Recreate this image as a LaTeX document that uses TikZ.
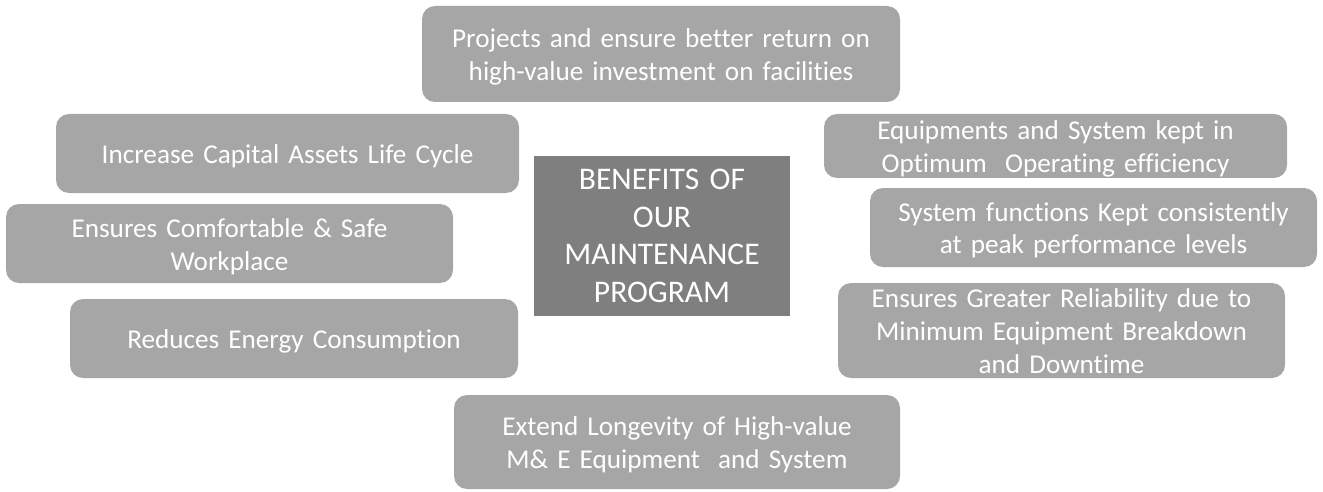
\documentclass[tikz,border=0pt]{standalone}
\usepackage{fontspec}
\setmainfont{Carlito}[Ligatures=NoCommon]
\usepackage{xcolor}
\usepackage{tikz}
\usetikzlibrary{positioning}
\definecolor{benefitgray}{HTML}{A6A6A6}
\definecolor{titlegray}{HTML}{7F7F7F}

\begin{document}
\begin{tikzpicture}[x=1pt, y=1pt,
    benefit/.style={fill=benefitgray, rounded corners=13pt, text=white, align=center,
        inner sep=0pt, font=\fontsize{27.2}{33}\selectfont, text height=23pt},
    oneline/.style={text depth=3pt},
    twoline/.style={text depth=36pt},
    threeline/.style={text depth=69pt},
    title/.style={fill=titlegray, text=white, align=center, inner sep=0pt,
        font=\fontsize{31.5}{37.5}\selectfont, text height=24pt, text depth=116.5pt}]
    \useasboundingbox (0,0) rectangle (1323,491);

    % Centre box
    \node[title, minimum width=256pt, minimum height=160pt, text width=256pt] (program) at (662,255)
        {BENEFITS OF\\OUR\\MAINTENANCE\\PROGRAM};

    % Top and bottom
    \node[benefit, twoline, minimum width=478pt, minimum height=96pt, text width=478pt] (invest) at (661,437)
        {Projects and ensure better return on\\high-value investment on facilities};
    \node[benefit, twoline, minimum width=446pt, minimum height=94pt, text width=446pt] (longevity) at (677,49)
        {Extend Longevity of High-value\\M\&\ E Equipment\ \ and System};

    % Left column
    \node[benefit, oneline, minimum width=463pt, minimum height=79pt, text width=463pt] (lifecycle) at (287.5,337.5)
        {Increase Capital Assets Life Cycle};
    \node[benefit, twoline, minimum width=447pt, minimum height=79pt, text width=447pt] (workplace) at (229.5,247.5)
        {Ensures Comfortable \& Safe\\Workplace};
    \node[benefit, oneline, minimum width=448pt, minimum height=79pt, text width=448pt] (energy) at (294,152.5)
        {Reduces Energy Consumption};

    % Right column
    \node[benefit, twoline, minimum width=463pt, minimum height=64pt, text width=463pt] (efficiency) at (1055.5,345)
        {Equipments and System kept in\\Optimum\ \ Operating efficiency};
    \node[benefit, twoline, minimum width=447pt, minimum height=79pt, text width=447pt] (peak) at (1093.5,263.5)
        {System functions Kept consistently\\at peak performance levels};
    \node[benefit, threeline, minimum width=447pt, minimum height=95pt, text width=447pt] (reliability) at (1061.5,160.5)
        {Ensures Greater Reliability due to\\Minimum Equipment Breakdown\\and Downtime};
\end{tikzpicture}
\end{document}
